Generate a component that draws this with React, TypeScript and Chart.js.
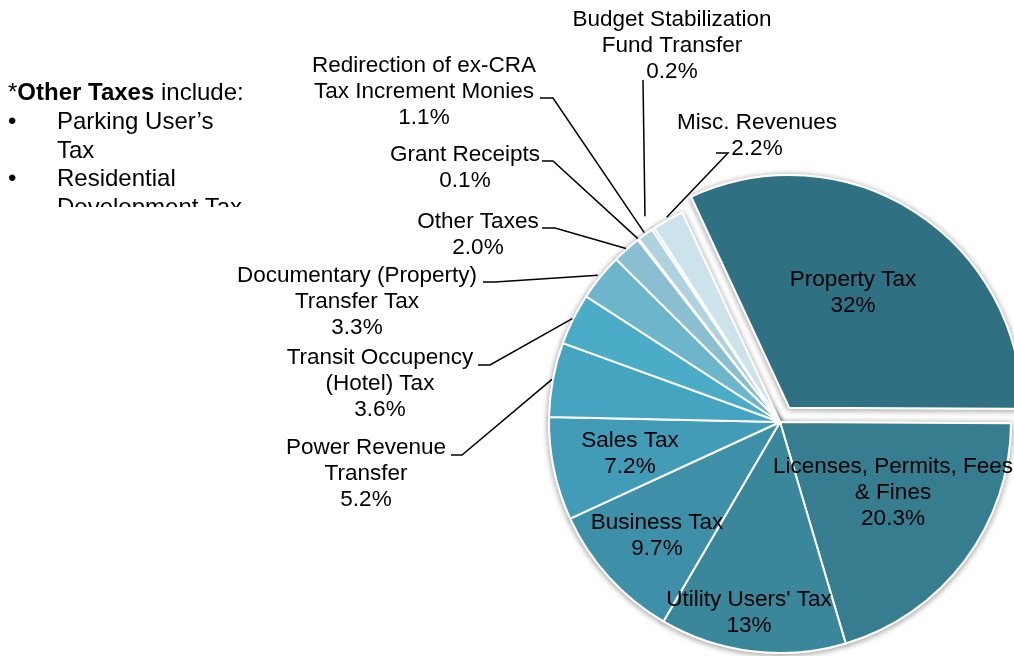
import React, { useEffect, useRef } from "react";
import { Chart, registerables } from "chart.js";

Chart.register(...registerables);

// ---- data ----
const categories = [
  "Property Tax",
  "Licenses, Permits, Fees & Fines",
  "Utility Users' Tax",
  "Business Tax",
  "Sales Tax",
  "Power Revenue Transfer",
  "Transit Occupency (Hotel) Tax",
  "Documentary (Property) Transfer Tax",
  "Other Taxes",
  "Grant Receipts",
  "Redirection of ex-CRA Tax Increment Monies",
  "Budget Stabilization Fund Transfer",
  "Misc. Revenues",
];
const shares = [32, 20.3, 13, 9.7, 7.2, 5.2, 3.6, 3.3, 2.0, 0.1, 1.1, 0.2, 2.2];
const shareLabels = ["32%", "20.3%", "13%", "9.7%", "7.2%", "5.2%", "3.6%", "3.3%", "2.0%", "0.1%", "1.1%", "0.2%", "2.2%"];
const labelLines = [
  ["Property Tax"],
  ["Licenses, Permits, Fees", "& Fines"],
  ["Utility Users' Tax"],
  ["Business Tax"],
  ["Sales Tax"],
  ["Power Revenue", "Transfer"],
  ["Transit Occupency", "(Hotel) Tax"],
  ["Documentary (Property)", "Transfer Tax"],
  ["Other Taxes"],
  ["Grant Receipts"],
  ["Redirection of ex-CRA", "Tax Increment Monies"],
  ["Budget Stabilization", "Fund Transfer"],
  ["Misc. Revenues"],
];
const noteItems = [["Parking User\u2019s", "Tax"], ["Residential", "Development Tax"]];

// ---- styles / layout ----
const sliceColors = [
  "#2f7183", "#367d90", "#3a869b", "#3e90a8", "#429cb7", "#45a5c0", "#4aacc6",
  "#6db5cb", "#8abfd1", "#9fcad8", "#aed3df", "#bfdce6", "#cde3eb",
];
const sliceOffsets = [68, 0, 0, 0, 0, 0, 0, 0, 0, 0, 0, 0, 0];
// label block: center x, center y of first line
const labelAnchor: [number, number][] = [
  [853, 278], [893, 465], [749, 598], [657, 521], [630, 439], [366, 446], [380, 356],
  [357, 274], [478, 220], [465, 153], [424, 64], [672, 18], [757, 121],
];
// leader lines (label side points); null = no leader
const leaderStart: ([number, number][] | null)[] = [
  null, null, null, null, null,
  [[451, 455], [462, 455]],
  [[478, 365], [490, 365]],
  [[483, 282], [495, 282]],
  [[542, 228], [555, 228]],
  [[542, 161], [553, 161]],
  [[540, 98], [553, 98]],
  [[643, 80]],
  [[716, 153], [728, 153]],
];
const leaderExtra = [0, 0, 0, 0, 0, 1, 1, 3, 1, 1, 2, 15, 3];
const LINE_H = 26;
const FONT = '22.5px "Liberation Sans", Arial, sans-serif';

const shadowPlugin = {
  id: "pieShadow",
  beforeDatasetsDraw(chart: any) {
    const ctx = chart.ctx;
    const meta = chart.getDatasetMeta(0);
    meta.data.forEach((arc: any) => {
      ctx.save();
      ctx.shadowColor = "rgba(0,0,0,0.38)";
      ctx.shadowBlur = 6;
      ctx.shadowOffsetX = 0;
      ctx.shadowOffsetY = 1;
      arc.draw(ctx);
      ctx.restore();
    });
  },
};

const labelPlugin = {
  id: "pieLabels",
  afterDatasetsDraw(chart: any) {
    const ctx = chart.ctx;
    const meta = chart.getDatasetMeta(0);
    ctx.save();
    // leader lines
    ctx.strokeStyle = "#000";
    ctx.lineWidth = 1.5;
    meta.data.forEach((arc: any, i: number) => {
      const pts = leaderStart[i];
      if (!pts) return;
      const { x, y, startAngle, endAngle, outerRadius } = arc.getProps(
        ["x", "y", "startAngle", "endAngle", "outerRadius"], true
      );
      const mid = (startAngle + endAngle) / 2;
      const r = outerRadius + leaderExtra[i];
      const ex = x + Math.cos(mid) * r;
      const ey = y + Math.sin(mid) * r;
      ctx.beginPath();
      ctx.moveTo(pts[0][0], pts[0][1]);
      for (let k = 1; k < pts.length; k++) ctx.lineTo(pts[k][0], pts[k][1]);
      ctx.lineTo(ex, ey);
      ctx.stroke();
    });
    // texts
    ctx.fillStyle = "#000";
    ctx.font = FONT;
    ctx.textAlign = "center";
    ctx.textBaseline = "alphabetic";
    labelLines.forEach((lines, i) => {
      const all = [...lines, shareLabels[i]];
      const [cx, cy] = labelAnchor[i];
      all.forEach((t, k) => {
        ctx.fillText(t, cx, cy + k * LINE_H + 8);
      });
    });
    ctx.restore();
  },
};

export default function App() {
  const ref = useRef<HTMLCanvasElement | null>(null);
  useEffect(() => {
    if (!ref.current) return;
    const chart = new Chart(ref.current, {
      type: "pie",
      data: {
        labels: categories,
        datasets: [
          {
            data: shares,
            backgroundColor: sliceColors,
            borderColor: "#ffffff",
            borderWidth: 2,
            offset: sliceOffsets,
          } as any,
        ],
      },
      options: {
        animation: false,
        responsive: false,
        maintainAspectRatio: false,
        rotation: -25,
        radius: 231,
        layout: { padding: { left: 546, right: 0, top: 188, bottom: 0 } },
        plugins: { legend: { display: false }, tooltip: { enabled: false } },
      } as any,
      plugins: [shadowPlugin, labelPlugin],
    });
    return () => chart.destroy();
  }, []);

  const noteFont: React.CSSProperties = {
    fontFamily: '"Liberation Sans", Arial, sans-serif',
    fontSize: "24px",
    lineHeight: "28.8px",
    color: "#000",
  };

  return (
    <div>
      <canvas
        ref={ref}
        width={1014}
        height={656}
        style={{ position: "absolute", left: 0, top: 0, width: 1014, height: 656 }}
      />
      <div
        style={{
          position: "absolute",
          left: 8,
          top: 78,
          width: 260,
          height: 129,
          overflow: "hidden",
          ...noteFont,
        }}
      >
        <div style={{ whiteSpace: "nowrap" }}>
          *<b>Other Taxes</b> include:
        </div>
        {noteItems.map((item, i) => (
          <div key={i} style={{ position: "relative", paddingLeft: 49, whiteSpace: "nowrap" }}>
            <span style={{ position: "absolute", left: 0, top: 0 }}>{"\u2022"}</span>
            {item.map((ln, k) => (
              <div key={k}>{ln}</div>
            ))}
          </div>
        ))}
      </div>
    </div>
  );
}
